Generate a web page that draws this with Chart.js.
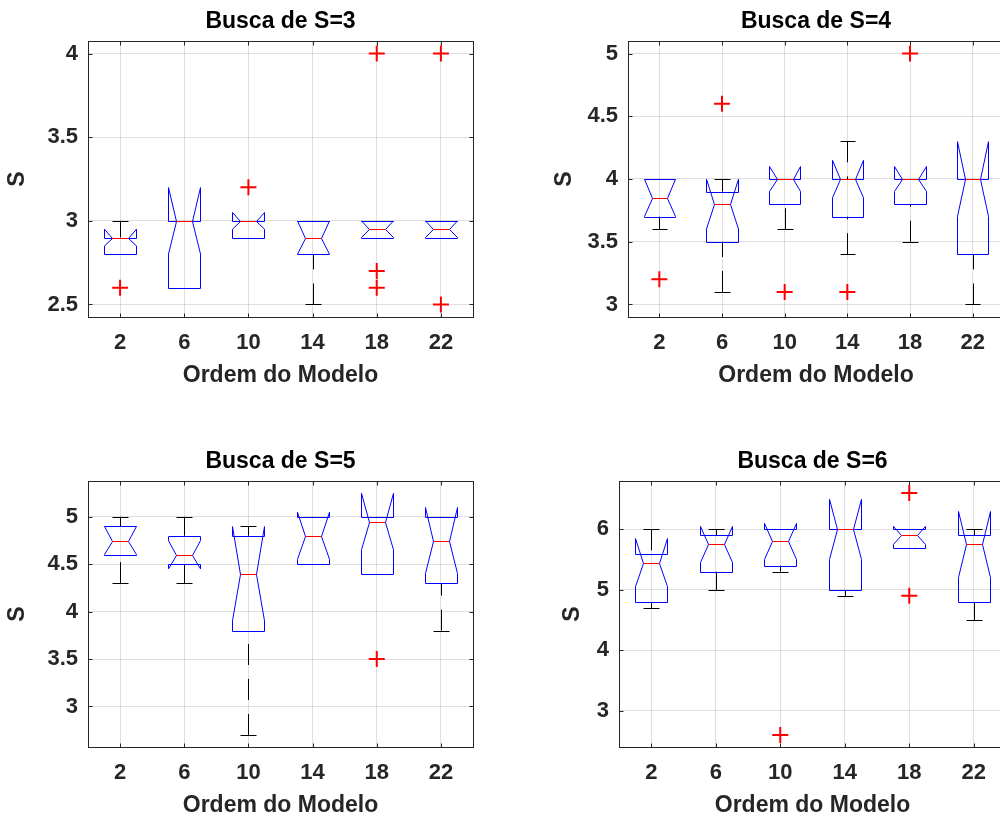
<!DOCTYPE html>
<html>
<head>
<meta charset="utf-8">
<script src="https://cdn.jsdelivr.net/npm/chart.js@4.4.1/dist/chart.umd.min.js"></script>
<style>
  html, body { margin: 0; padding: 0; background: #fff; width: 1000px; height: 817px; overflow: hidden; position: relative; }
  canvas { position: absolute; }
</style>
</head>
<body>
<canvas id="c3"></canvas>
<canvas id="c4"></canvas>
<canvas id="c5"></canvas>
<canvas id="c6"></canvas>
<script>
// model orders (x categories)
const categories = ['2', '6', '10', '14', '18', '22'];

// Busca de S=3
const s3Q1  = [2.8, 2.6, 2.9, 2.8, 2.9, 2.9];
const s3Med = [2.9, 3.0, 3.0, 2.9, 2.95, 2.95];
const s3Q3  = [2.9, 3.0, 3.0, 3.0, 3.0, 3.0];
const s3WLo = [2.8, 2.6, 2.9, 2.5, 2.9, 2.9];
const s3WHi = [3.0, 3.0, 3.0, 3.0, 3.0, 3.0];
const s3Out = [[2.6], [], [3.2], [], [4.0, 2.7, 2.6], [4.0, 2.5]];
const s3Ticks = [2.5, 3, 3.5, 4];
const s3Lim = [2.425, 4.075];

// Busca de S=4
const s4Q1  = [3.7, 3.5, 3.8, 3.7, 3.8, 3.4];
const s4Med = [3.85, 3.8, 4.0, 4.0, 4.0, 4.0];
const s4Q3  = [4.0, 3.9, 4.0, 4.0, 4.0, 4.0];
const s4WLo = [3.6, 3.1, 3.6, 3.4, 3.5, 3.0];
const s4WHi = [4.0, 4.0, 4.0, 4.3, 4.0, 4.0];
const s4Out = [[3.2], [4.6], [3.1], [3.1], [5.0], []];
const s4Ticks = [3, 3.5, 4, 4.5, 5];
const s4Lim = [2.9, 5.1];

// Busca de S=5
const s5Q1  = [4.6, 4.5, 3.8, 4.5, 4.4, 4.3];
const s5Med = [4.75, 4.6, 4.4, 4.8, 4.95, 4.75];
const s5Q3  = [4.9, 4.8, 4.8, 5.0, 5.0, 5.0];
const s5WLo = [4.3, 4.3, 2.7, 4.5, 4.4, 3.8];
const s5WHi = [5.0, 5.0, 4.9, 5.0, 5.0, 5.0];
const s5Out = [[], [], [], [], [3.5], []];
const s5Ticks = [3, 3.5, 4, 4.5, 5];
const s5Lim = [2.5725, 5.3775];

// Busca de S=6
const s6Q1  = [4.8, 5.3, 5.4, 5.0, 5.7, 4.8];
const s6Med = [5.45, 5.75, 5.8, 6.0, 5.9, 5.75];
const s6Q3  = [5.6, 5.9, 6.0, 6.0, 6.0, 5.9];
const s6WLo = [4.7, 5.0, 5.3, 4.9, 5.7, 4.5];
const s6WHi = [6.0, 6.0, 6.0, 6.0, 6.0, 6.0];
const s6Out = [[], [], [2.6], [], [6.6, 4.9], []];
const s6Ticks = [3, 4, 5, 6];
const s6Lim = [2.4, 6.8];

const nSamples = 10; // runs per box, gives the notch size

const FONT = "'Liberation Sans', Arial, Helvetica, sans-serif";
const INK = '#262626';
const GRID = 'rgba(38,38,38,0.15)';

const snap = v => Math.round(v) + 0.5;

// matlab style notched boxes, drawn through the chart scales
const notchBox = {
  id: 'notchBox',
  beforeDatasetsDraw(chart, args, o) {
    const { ctx, chartArea: a } = chart;
    const xs = chart.scales.x, ys = chart.scales.y;
    const w = (a.right - a.left) / categories.length * 0.25;
    const py = v => ys.getPixelForValue(v);
    ctx.save();
    ctx.beginPath();
    ctx.rect(a.left, a.top, a.right - a.left, a.bottom - a.top);
    ctx.clip();
    ctx.lineWidth = 1;
    o.med.forEach((m, i) => {
      const cx = xs.getPixelForValue(i);
      const x = snap(cx);
      const k = 1.57 * (o.q3[i] - o.q1[i]) / Math.sqrt(nSamples);

      // whiskers, dashed from the adjacent value toward the box
      ctx.strokeStyle = '#000';
      ctx.setLineDash([21, 14]);
      ctx.beginPath();
      ctx.moveTo(x, py(o.wLo[i])); ctx.lineTo(x, py(o.q1[i]));
      ctx.stroke();
      ctx.beginPath();
      ctx.moveTo(x, py(o.wHi[i])); ctx.lineTo(x, py(o.q3[i]));
      ctx.stroke();
      ctx.setLineDash([]);
      ctx.beginPath();
      [o.wLo[i], o.wHi[i]].forEach(v => {
        const y = snap(py(v));
        ctx.moveTo(snap(cx - w / 2), y); ctx.lineTo(snap(cx + w / 2), y);
      });
      ctx.stroke();

      // box with notch
      const xl = snap(cx - w), xr = snap(cx + w);
      const xnl = snap(cx - w / 2), xnr = snap(cx + w / 2);
      const yq1 = snap(py(o.q1[i])), yq3 = snap(py(o.q3[i])), ym = snap(py(m));
      const ynl = py(m - k), ynh = py(m + k);
      ctx.strokeStyle = '#0000ff';
      ctx.beginPath();
      ctx.moveTo(xl, yq1); ctx.lineTo(xl, ynl); ctx.lineTo(xnl, ym); ctx.lineTo(xl, ynh); ctx.lineTo(xl, yq3);
      ctx.lineTo(xr, yq3); ctx.lineTo(xr, ynh); ctx.lineTo(xnr, ym); ctx.lineTo(xr, ynl); ctx.lineTo(xr, yq1);
      ctx.closePath();
      ctx.stroke();

      ctx.strokeStyle = '#ff0000';
      ctx.beginPath();
      ctx.moveTo(xnl, ym); ctx.lineTo(xnr, ym);
      ctx.stroke();
    });
    ctx.restore();
  },
  afterDraw(chart) {
    // axes box with inward ticks on all four sides
    const { ctx, chartArea: a } = chart;
    const xs = chart.scales.x, ys = chart.scales.y;
    const L = snap(a.left), R = snap(a.right), T = snap(a.top), B = snap(a.bottom);
    ctx.save();
    ctx.strokeStyle = INK;
    ctx.lineWidth = 1;
    ctx.strokeRect(L, T, R - L, B - T);
    ctx.beginPath();
    xs.ticks.forEach((t, i) => {
      const px = snap(xs.getPixelForTick(i));
      ctx.moveTo(px, T); ctx.lineTo(px, T + 4);
      ctx.moveTo(px, B); ctx.lineTo(px, B - 4);
    });
    ys.ticks.forEach((t, i) => {
      const py = snap(ys.getPixelForTick(i));
      ctx.moveTo(L, py); ctx.lineTo(L + 4, py);
      ctx.moveTo(R, py); ctx.lineTo(R - 4, py);
    });
    ctx.stroke();
    ctx.restore();
  }
};

function makeChart(id, box, title, yLim, yTicks, stats, outliers) {
  const cv = document.getElementById(id);
  cv.width = box.w; cv.height = box.h;
  cv.style.left = box.left + 'px';
  cv.style.top = box.top + 'px';

  const pts = [];
  outliers.forEach((list, i) => list.forEach(v => pts.push({ x: categories[i], y: v })));

  return new Chart(cv, {
    type: 'scatter',
    data: {
      datasets: [{
        data: pts,
        pointStyle: 'cross',
        pointRadius: 8,
        pointHoverRadius: 8,
        borderColor: '#ff0000',
        backgroundColor: '#ff0000',
        borderWidth: 2
      }]
    },
    plugins: [notchBox],
    options: {
      responsive: false,
      animation: false,
      events: [],
      devicePixelRatio: 1,
      layout: { padding: { left: 0, top: 0, bottom: 0, right: box.padR } },
      plugins: {
        legend: { display: false },
        tooltip: { enabled: false },
        title: {
          display: true, text: title, fullSize: false, color: '#000',
          font: { family: FONT, size: 23, weight: 'bold' },
          padding: { top: box.tPadT, bottom: box.tPadB }
        },
        notchBox: stats
      },
      scales: {
        x: {
          type: 'category', labels: categories, offset: true,
          grid: { offset: false, color: GRID, lineWidth: 1, drawTicks: false },
          border: { display: false },
          ticks: { color: INK, font: { family: FONT, size: 22, weight: 'bold' }, padding: box.xTickPad, maxRotation: 0, autoSkip: false },
          title: { display: true, text: 'Ordem do Modelo', color: INK, font: { family: FONT, size: 23, weight: 'bold' }, padding: { top: 0, bottom: box.xTitlePad } },
          afterFit: s => { s.height = box.xH; }
        },
        y: {
          type: 'linear', min: yLim[0], max: yLim[1],
          afterBuildTicks: s => { s.ticks = yTicks.map(v => ({ value: v })); },
          grid: { color: GRID, lineWidth: 1, drawTicks: false },
          border: { display: false },
          ticks: { color: INK, font: { family: FONT, size: 22, weight: 'bold' }, padding: 10, callback: v => String(v) },
          title: { display: true, text: 'S', color: INK, font: { family: FONT, size: 23, weight: 'bold' }, padding: { top: box.yTitlePad, bottom: 0 } },
          afterFit: s => { s.width = box.yW; }
        }
      }
    }
  });
}

makeChart('c3',
  { left: 0, top: 0, w: 540, h: 400, padR: 67, yW: 88, xH: 83, tPadT: 8.2, tPadB: 5.2, xTickPad: 13.1, xTitlePad: 10.2, yTitlePad: 4.2 },
  'Busca de S=3', s3Lim, s3Ticks,
  { q1: s3Q1, med: s3Med, q3: s3Q3, wLo: s3WLo, wHi: s3WHi }, s3Out);

makeChart('c4',
  { left: 540, top: 0, w: 480, h: 400, padR: 16, yW: 88, xH: 83, tPadT: 8.2, tPadB: 5.2, xTickPad: 13.1, xTitlePad: 10.2, yTitlePad: 11.2 },
  'Busca de S=4', s4Lim, s4Ticks,
  { q1: s4Q1, med: s4Med, q3: s4Q3, wLo: s4WLo, wHi: s4WHi }, s4Out);

makeChart('c5',
  { left: 0, top: 420, w: 540, h: 400, padR: 67, yW: 88, xH: 73, tPadT: 28.2, tPadB: 5.2, xTickPad: 13.1, xTitlePad: 0.2, yTitlePad: 4.2 },
  'Busca de S=5', s5Lim, s5Ticks,
  { q1: s5Q1, med: s5Med, q3: s5Q3, wLo: s5WLo, wHi: s5WHi }, s5Out);

makeChart('c6',
  { left: 540, top: 420, w: 480, h: 400, padR: 14, yW: 79, xH: 73, tPadT: 28.2, tPadB: 5.2, xTickPad: 13.1, xTitlePad: 0.2, yTitlePad: 19.2 },
  'Busca de S=6', s6Lim, s6Ticks,
  { q1: s6Q1, med: s6Med, q3: s6Q3, wLo: s6WLo, wHi: s6WHi }, s6Out);
</script>
</body>
</html>
